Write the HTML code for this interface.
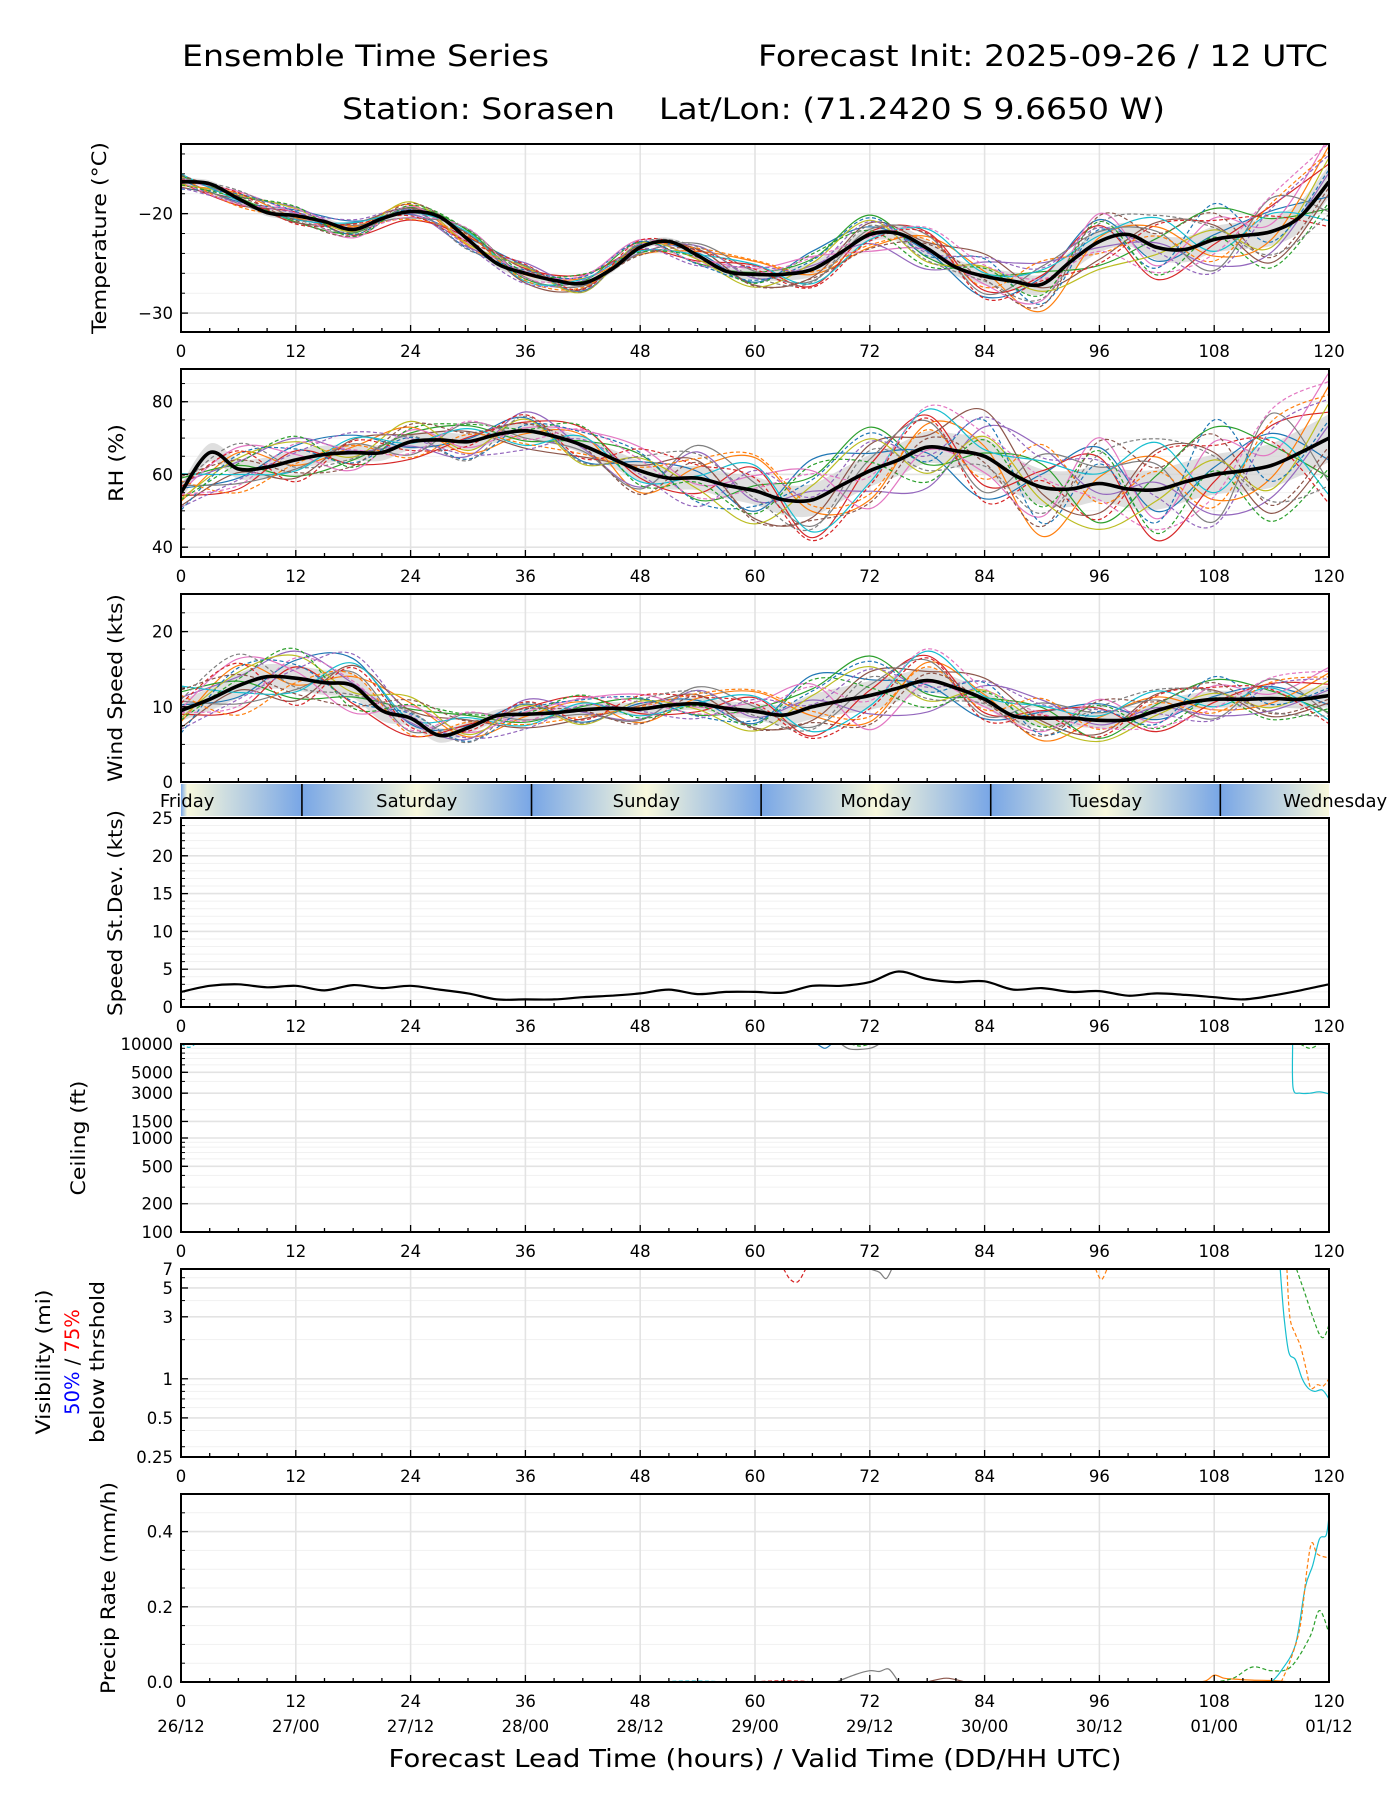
<!DOCTYPE html>
<html><head><meta charset="utf-8"><style>
html,body{margin:0;padding:0;background:#fff;}
svg{display:block;font-family:"DejaVu Sans","Liberation Sans",sans-serif;}
</style></head><body>
<svg id="fig" width="1400" height="1800" viewBox="0 0 1400 1800" xmlns="http://www.w3.org/2000/svg">
<defs id="defs"></defs>
<text x="182" y="66" font-size="29" textLength="367" lengthAdjust="spacingAndGlyphs">Ensemble Time Series</text>
<text x="758" y="66" font-size="29" textLength="570" lengthAdjust="spacingAndGlyphs">Forecast Init: 2025-09-26 / 12 UTC</text>
<text x="342" y="119" font-size="29" textLength="273" lengthAdjust="spacingAndGlyphs">Station: Sorasen</text>
<text x="659" y="119" font-size="29" textLength="506" lengthAdjust="spacingAndGlyphs">Lat/Lon: (71.2420 S 9.6650 W)</text>
<text x="755" y="1767" font-size="25" text-anchor="middle" textLength="733" lengthAdjust="spacingAndGlyphs">Forecast Lead Time (hours) / Valid Time (DD/HH UTC)</text>
<g id="root"></g>
</svg>
<script>
// ---------- data ----------
const tempMean=[-16.8,-17.0,-18.5,-19.9,-20.2,-20.8,-21.6,-20.5,-19.8,-20.3,-22.6,-25.0,-26.0,-26.7,-27.0,-25.6,-23.4,-22.8,-24.2,-25.8,-26.1,-26.1,-25.6,-23.9,-22.1,-22.0,-23.5,-25.4,-26.3,-26.8,-27.1,-24.8,-22.8,-22.1,-23.4,-23.6,-22.6,-22.2,-21.8,-20.3,-16.8];
const rhMean=[55,66,61.5,62,64,65.5,66,66,69,69.5,69,71,72,70.5,68,64.5,61,59,59,57,55.5,53,53,57,61,64,67.5,66.5,65,60,56.5,56,57.5,56,55.8,58,60,61,62.5,66,70];
const windMean=[9.5,11,12.8,14,13.8,13.2,12.8,9.5,8.5,6.2,7.2,8.8,9,9.2,9.6,9.8,9.7,10.2,10.4,9.8,9.4,8.9,10,10.8,11.5,12.5,13.5,12.5,11,8.8,8.5,8.5,8.2,8.3,9.5,10.5,11,11,11.1,11,11.5];
const sdMean=[2,2.8,3,2.6,2.8,2.2,2.9,2.5,2.8,2.3,1.8,1.0,1.0,1.0,1.3,1.5,1.8,2.3,1.7,2.0,2.0,1.9,2.8,2.8,3.3,4.7,3.7,3.3,3.4,2.3,2.5,2.0,2.1,1.5,1.8,1.6,1.3,1.0,1.5,2.2,3.0];
// spread (6-hourly, h0..h120)
const tempSpread=[0.6,0.6,0.7,0.7,0.7,0.8,0.8,0.7,0.6,0.8,1.0,1.3,1.3,1.5,1.6,1.8,2.0,2.3,2.4,2.6,3.0];
const rhSpread=[4,5,5,4,4,4,4,4,5,6,7,8,8,8,9,9,9,10,10,11,12];
const windSpread=[2.5,3,3,3,2,1.5,1.5,1.5,1.5,1.5,2,3,3.5,3,2,2,2,2,2,2,2.5];
const memberDev=[
[0.3,-0.5,0.8,1.2,-0.4,0.2,0.9,-1.1,0.5,0.3,-0.8,1.4,0.6,-0.2,-1.3,0.4,1.1,-0.6,0.2,0.8,-0.5],
[-0.6,0.9,-0.3,0.4,1.0,-0.8,-0.2,0.7,-1.2,0.5,1.3,-0.4,-1.0,0.8,0.3,-1.5,0.2,0.9,-0.7,-0.3,1.2],
[1.0,0.2,-0.9,-0.5,0.6,1.1,-0.7,0.3,0.9,-1.0,0.2,0.8,1.5,-0.6,0.1,0.7,-1.2,0.4,1.3,0.5,-0.9],
[-0.2,-1.1,0.5,-0.8,-1.2,0.3,0.6,1.2,-0.4,-0.7,0.9,-1.3,0.2,1.1,-0.9,0.5,0.8,-1.4,-0.2,1.0,0.6],
[0.7,0.4,1.2,0.1,-0.3,-1.0,1.3,-0.2,-0.9,1.2,-0.4,0.3,-0.7,-1.4,0.9,1.2,-0.3,0.2,-1.1,-0.8,0.3],
[-0.9,-0.2,-1.0,0.9,0.5,0.7,-1.2,-0.8,0.3,0.8,-1.1,-0.6,0.9,0.4,1.4,-0.2,-0.9,1.1,0.6,-1.2,-0.4],
[0.1,1.2,0.3,-1.2,0.8,-0.4,0.2,1.0,1.3,-0.3,0.6,1.0,-1.3,-0.1,-0.5,-0.9,1.4,-0.8,0.9,0.3,1.5],
[0.5,-0.8,-0.5,0.6,-0.9,1.3,-0.5,-0.4,-1.0,1.5,0.3,-0.9,0.4,0.9,-1.1,1.0,0.5,0.7,-1.3,1.3,-1.0],
[-0.4,0.6,1.0,-0.3,1.4,-0.6,0.8,-1.3,0.7,-0.5,-1.3,0.5,1.1,-0.9,0.6,-0.4,-1.4,-0.3,0.4,-0.6,0.8],
[1.3,-0.3,-0.6,1.0,-0.1,0.9,-1.0,0.6,-0.6,0.1,1.0,-1.1,-0.4,1.3,0.2,0.8,0.3,1.3,-0.5,0.7,-1.3],
[-1.2,0.8,0.6,-0.7,0.3,-1.2,0.4,0.9,1.0,-1.1,-0.6,0.7,1.3,-0.5,1.1,-1.1,0.6,-0.9,1.5,-0.4,0.4],
[0.8,-1.3,-0.2,0.5,-1.1,0.5,-0.9,-0.6,0.2,0.9,1.4,-0.2,-0.8,0.6,-0.7,1.3,-0.6,0.5,-0.9,1.1,1.0],
[-0.5,0.3,1.3,-1.0,0.9,1.2,0.1,1.3,-0.8,-0.2,-0.9,1.2,0.3,-1.2,0.5,-0.6,1.0,-1.2,0.1,-1.4,-0.7],
[0.4,1.0,-1.2,0.8,-0.6,-0.3,1.1,-0.9,1.2,0.6,0.5,-1.4,-0.5,1.0,-1.4,0.2,-1.1,1.0,0.8,0.6,-1.5],
[-1.0,-0.6,0.4,1.4,0.2,-0.9,-1.3,0.4,-0.2,-1.3,0.8,0.1,1.0,-0.3,1.2,0.9,0.7,-0.2,-1.4,0.9,0.9],
[1.1,0.5,-0.7,-0.9,1.2,0.6,0.5,-0.1,-1.3,0.7,-1.2,-0.7,-1.1,0.3,-0.2,-1.2,1.3,0.6,1.1,-1.0,-0.2],
[-0.1,-0.9,0.9,0.2,-0.8,1.4,-0.6,1.1,0.6,-0.9,0.1,0.9,-0.2,1.4,0.7,0.3,-0.5,-1.1,-0.6,1.4,1.3],
[0.6,1.4,-0.4,-0.4,0.4,-1.3,1.0,-1.2,0.8,1.1,-0.3,-1.0,0.7,-0.8,-0.3,-0.8,0.9,1.4,0.5,-0.9,-1.1]];
const memberColors=['#1f77b4','#ff7f0e','#2ca02c','#d62728','#9467bd','#8c564b','#e377c2','#7f7f7f','#bcbd22','#17becf'];
// sparse ceiling / visibility / precip traces [hour, value]
const ceilTraces=[
 {c:'#17becf',d:true,p:[[0,10000],[0.8,9200],[1.5,10000]]},
 {c:'#1f77b4',d:false,p:[[66.5,10000],[67.3,9000],[68,10000]]},
 {c:'#7f7f7f',d:false,p:[[69,10000],[70,8800],[72,9000],[73,10000]]},
 {c:'#2ca02c',d:true,p:[[70,10000],[71,9500],[72,10000]]},
 {c:'#2ca02c',d:true,p:[[117,10000],[118,9000],[119,10000]]},
 {c:'#17becf',d:false,p:[[116.2,10000],[116.25,3400],[117,3000],[118,3000],[119,3100],[120,2950]]}];
const visTraces=[
 {c:'#d62728',d:true,p:[[63,7],[63.7,5.8],[64.5,5.6],[65.3,7]]},
 {c:'#7f7f7f',d:false,p:[[72,7],[73,6.6],[73.7,5.9],[74.3,7]]},
 {c:'#ff7f0e',d:true,p:[[95.6,7],[96.2,5.8],[96.8,7]]},
 {c:'#17becf',d:false,p:[[114.9,7],[115.3,3],[115.8,1.6],[116.5,1.4],[117.2,1.0],[117.8,0.85],[118.5,0.8],[119.3,0.82],[120,0.7]]},
 {c:'#ff7f0e',d:true,p:[[115.6,7],[115.9,3],[116.5,2.2],[117,1.8],[117.6,1.2],[118.1,0.85],[118.8,0.9],[119.4,0.88],[120,1.0]]},
 {c:'#2ca02c',d:true,p:[[116.6,7],[117.5,4.5],[118.3,3],[119,2.2],[119.5,2.1],[120,2.6]]}];
const precipTraces=[
 {c:'#17becf',d:true,p:[[50,0],[52,0.002],[55,0.002],[57,0]]},
 {c:'#d62728',d:true,p:[[60,0],[62,0.003],[65,0.002],[66,0]]},
 {c:'#7f7f7f',d:false,p:[[68.5,0],[70.5,0.02],[72,0.03],[73,0.028],[74,0.034],[75,0]]},
 {c:'#8c564b',d:false,p:[[78,0],[80,0.01],[82,0]]},
 {c:'#ff7f0e',d:false,p:[[105,0],[107,0.002],[108,0.018],[109,0.01],[110,0.008],[112,0.005],[114,0.004],[116,0]]},
 {c:'#2ca02c',d:true,p:[[108,0],[110,0.01],[112,0.04],[114,0.03],[116,0.04],[118,0.12],[119,0.19],[120,0.13]]},
 {c:'#17becf',d:false,p:[[114,0],[115,0.03],[116.5,0.1],[117.5,0.25],[118.3,0.31],[119,0.38],[119.7,0.39],[120,0.44]]},
 {c:'#ff7f0e',d:true,p:[[115,0],[116,0.06],[117,0.15],[117.7,0.3],[118.2,0.37],[118.8,0.34],[120,0.33]]}];
const xTicks=[0,12,24,36,48,60,72,84,96,108,120];
const dateLabels=['26/12','27/00','27/12','28/00','28/12','29/00','29/12','30/00','30/12','01/00','01/12'];
const dayNames=['Friday','Saturday','Sunday','Monday','Tuesday','Wednesday'];
const localNoonOffset=0.64;

// ---------- helpers ----------
const NS='http://www.w3.org/2000/svg';
const root=document.getElementById('root');
const defs=document.getElementById('defs');
const L=181,R=1329;
const X=h=>L+h*(R-L)/120;
function mk(tag,attrs,parent){const e=document.createElementNS(NS,tag);for(const k in attrs)e.setAttribute(k,attrs[k]);(parent||root).appendChild(e);return e;}
function smooth(pts){if(pts.length<2)return '';let d='M'+pts[0][0].toFixed(1)+','+pts[0][1].toFixed(1);
 for(let i=0;i<pts.length-1;i++){const p0=pts[i-1]||pts[i],p1=pts[i],p2=pts[i+1],p3=pts[i+2]||p2;
  const c1=[p1[0]+(p2[0]-p0[0])/6,p1[1]+(p2[1]-p0[1])/6],c2=[p2[0]-(p3[0]-p1[0])/6,p2[1]-(p3[1]-p1[1])/6];
  d+='C'+c1[0].toFixed(1)+','+c1[1].toFixed(1)+' '+c2[0].toFixed(1)+','+c2[1].toFixed(1)+' '+p2[0].toFixed(1)+','+p2[1].toFixed(1);}
 return d;}
const panels={
 temp:{top:144,bot:332,lo:-31.9,hi:-13.0},
 rh:{top:369,bot:557,lo:37.3,hi:89},
 wind:{top:594,bot:782,lo:0,hi:25},
 sd:{top:818,bot:1007,lo:0,hi:25},
 ceil:{top:1044,bot:1232,log:true,lo:100,hi:10000},
 vis:{top:1269,bot:1457,log:true,lo:0.25,hi:7},
 pr:{top:1494,bot:1682,lo:0,hi:0.5}};
function Yf(p){return v=>p.log? p.bot-(Math.log(v/p.lo)/Math.log(p.hi/p.lo))*(p.bot-p.top) : p.bot-(v-p.lo)/(p.hi-p.lo)*(p.bot-p.top);}
function drawAxes(key,name,ymaj,ymin,ylabels,noXLabels){
 const p=panels[key],Y=Yf(p);
 const g=mk('g',{});
 const cp=mk('clipPath',{id:'cp-'+key},defs);mk('rect',{x:L,y:p.top,width:R-L,height:p.bot-p.top},cp);
 ymin.forEach(v=>{const l=mk('line',{x1:L,x2:R,y1:Y(v),y2:Y(v),stroke:'#f1f1f1','stroke-width':1},g);});
 ymaj.forEach(v=>{const l=mk('line',{x1:L,x2:R,y1:Y(v),y2:Y(v),stroke:'#e3e3e3','stroke-width':1.6},g);});
 xTicks.forEach(h=>{const l=mk('line',{x1:X(h),x2:X(h),y1:p.top,y2:p.bot,stroke:'#e3e3e3','stroke-width':1.6},g);});
 p.g=g;p.Y=Y;p.cp='url(#cp-'+key+')';
 p.finish=function(){
  const f=mk('g',{});
  
  for(let h=0;h<=120;h+=3){const maj=h%12===0;mk('line',{x1:X(h),x2:X(h),y1:p.bot,y2:p.bot-(maj?7:4),stroke:'#000','stroke-width':1.3},f);}
  ymaj.forEach(v=>mk('line',{x1:L,x2:L+7,y1:Y(v),y2:Y(v),stroke:'#000','stroke-width':1.3},f));
  ymin.forEach(v=>mk('line',{x1:L,x2:L+4,y1:Y(v),y2:Y(v),stroke:'#000','stroke-width':1},f));
  mk('rect',{x:L,y:p.top,width:R-L,height:p.bot-p.top,fill:'none',stroke:'#000','stroke-width':2},f);
  if(!noXLabels) xTicks.forEach(h=>{const t=mk('text',{x:X(h),y:p.bot+25,'font-size':16.5,'text-anchor':'middle'},f);t.textContent=h;
   });
  ylabels.forEach(([v,s])=>{const t=mk('text',{x:L-8,y:Y(v)+6,'font-size':16.5,'text-anchor':'end'},f);t.textContent=s;
   });
 };
 return p;}
function range(a,b,s){const r=[];for(let v=a;v<=b+1e-9;v+=s)r.push(+v.toFixed(4));return r;}
function ylab(x,yc,txt,len,fs){const t=mk('text',{x:0,y:0,'font-size':fs||19.5,'text-anchor':'middle',transform:`translate(${x},${yc}) rotate(-90)`,textLength:len,lengthAdjust:'spacingAndGlyphs'});t.textContent=txt;return t;}

function ensemble(p,mean,spread,name){
 const Y=p.Y;const g=mk('g',{'clip-path':p.cp});
 
 const sp=i=>{const h=i*3,k=h/6,a=Math.floor(k),b=Math.min(a+1,20);return spread[a]+(spread[b]-spread[a])*(k-a);};
 const up=mean.map((v,i)=>[X(i*3),Y(v+0.55*sp(i))]),dn=mean.map((v,i)=>[X(i*3),Y(v-0.55*sp(i))]).reverse();
 const band=mk('path',{d:smooth(up)+'L'+smooth(dn).slice(1)+'Z',fill:'#d4d4d4','fill-opacity':0.75},g);
 
 memberDev.forEach((dev,m)=>{
  const pts=[];for(let i=0;i<dev.length;i++){const h=i*6;const mv=mean[h/3];pts.push([X(h),Y(mv+dev[i]*spread[i])]);}
  const pa=mk('path',{d:smooth(pts),fill:'none',stroke:memberColors[m%10],'stroke-width':1.2,'stroke-dasharray':m>=10?'4,2.5':'none'},g);
  });
 const ml=mk('path',{d:smooth(mean.map((v,i)=>[X(i*3),Y(v)])),fill:'none',stroke:'#000','stroke-width':3.6,'stroke-linejoin':'round'},g);
 }
function traces(p,list,name){
 const g=mk('g',{'clip-path':p.cp});
 list.forEach(t=>{const pa=mk('path',{d:smooth(t.p.map(q=>[X(q[0]),p.Y(q[1])])),fill:'none',stroke:t.c,'stroke-width':1.2,'stroke-dasharray':t.d?'4,2.5':'none'},g);
  });}

// ---------- temperature ----------
let p=drawAxes('temp','temperature',[-20,-30],range(-30,-14,2),[[-20,'\u221220'],[-30,'\u221230']]);
ensemble(p,tempMean,tempSpread,'temperature');p.finish();
let t=ylab(106,238,'Temperature (\u00B0C)',192);
// ---------- RH ----------
p=drawAxes('rh','rh',[40,60,80],range(40,85,5),[[40,'40'],[60,'60'],[80,'80']]);
ensemble(p,rhMean,rhSpread,'rh');p.finish();
t=ylab(123,463,'RH (%)',78);
// ---------- wind ----------
p=drawAxes('wind','wind-speed',[0,10,20],range(0,25,2.5),[[0,'0'],[10,'10'],[20,'20']],true);
ensemble(p,windMean,windSpread,'wind-speed');p.finish();
t=ylab(122,688,'Wind Speed (kts)',188);
// ---------- day band ----------
(function(){
 const g=mk('g',{});
 const gr=mk('linearGradient',{id:'dayg',gradientUnits:'userSpaceOnUse',x1:L,x2:R,y1:0,y2:0},defs);
 const stops=[];for(let h=-11.36;h<=132;h+=12){stops.push(h);}
 stops.forEach((h,i)=>{const noon=Math.round((h-localNoonOffset)/12)%2===0;mk('stop',{offset:Math.max(0,Math.min(1,h/120)),'stop-color':noon?'#f8f8dc':'#78a6e6'},gr);});
 mk('rect',{x:L,y:784,width:R-L,height:32,fill:'url(#dayg)'},g);
 for(let k=0;k<5;k++){const h=12+localNoonOffset+24*k;const l=mk('line',{x1:X(h),x2:X(h),y1:784,y2:816,stroke:'#000','stroke-width':1.6},g);
  }
 dayNames.forEach((d,k)=>{const tt=mk('text',{x:X(localNoonOffset+24*k),y:807,'font-size':18,'text-anchor':'middle'},g);tt.textContent=d;
  });
})();
// ---------- std dev ----------
p=drawAxes('sd','speed-stdev',[0,5,10,15,20,25],range(0,25,1),[[0,'0'],[5,'5'],[10,'10'],[15,'15'],[20,'20'],[25,'25']]);
(function(){const g=mk('g',{'clip-path':p.cp});const pa=mk('path',{d:smooth(sdMean.map((v,i)=>[X(i*3),p.Y(v)])),fill:'none',stroke:'#000','stroke-width':2.2},g);
 })();
p.finish();
t=ylab(122,913,'Speed St.Dev. (kts)',206);
// ---------- ceiling ----------
const ceilMinor=[];[100,1000].forEach(b=>{for(let k=2;k<=9;k++)ceilMinor.push(b*k);});
p=drawAxes('ceil','ceiling',[200,500,1000,1500,3000,5000],ceilMinor.filter(v=>v<10000),[[100,'100'],[200,'200'],[500,'500'],[1000,'1000'],[1500,'1500'],[3000,'3000'],[5000,'5000'],[10000,'10000']]);
traces(p,ceilTraces,'ceiling');p.finish();
t=ylab(85,1138,'Ceiling (ft)',115);
// ---------- visibility ----------
p=drawAxes('vis','visibility',[0.5,1,3,5],[0.3,0.4,0.6,0.7,0.8,0.9,2,4,6],[[0.25,'0.25'],[0.5,'0.5'],[1,'1'],[3,'3'],[5,'5'],[7,'7']]);
traces(p,visTraces,'visibility');p.finish();
t=ylab(50,1362,'Visibility (mi)',145);
(function(){const tt=mk('text',{x:0,y:0,'font-size':19.5,'text-anchor':'middle',transform:'translate(79,1362) rotate(-90)'});
 
 const a=mk('tspan',{fill:'#0000ff'},tt);a.textContent='50%';const b=mk('tspan',{fill:'#000'},tt);b.textContent=' / ';const c=mk('tspan',{fill:'#ff0000'},tt);c.textContent='75%';})();
t=ylab(104,1362,'below thrshold',162);
// ---------- precip ----------
p=drawAxes('pr','precip-rate',[0,0.2,0.4],range(0,0.5,0.05),[[0,'0.0'],[0.2,'0.2'],[0.4,'0.4']]);
traces(p,precipTraces,'precip');p.finish();
t=ylab(115,1588,'Precip Rate (mm/h)',212);
dateLabels.forEach((s,i)=>{const tt=mk('text',{x:X(xTicks[i]),y:1732,'font-size':16.5,'text-anchor':'middle'});tt.textContent=s;
 });
</script>
</body></html>
